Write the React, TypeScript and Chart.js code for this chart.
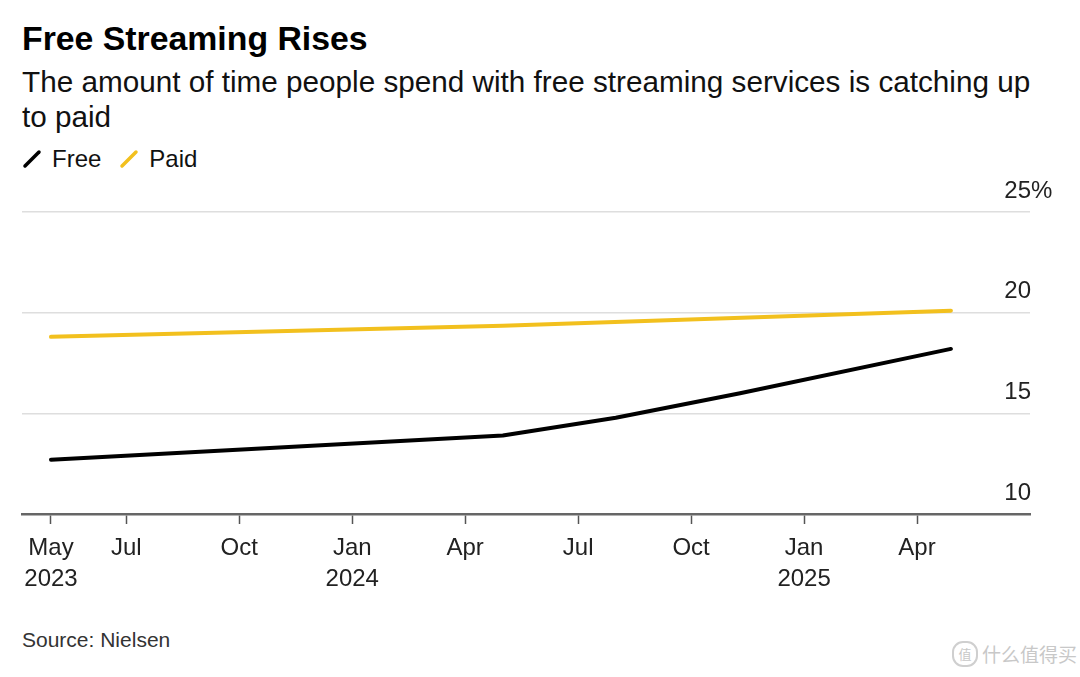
import React, { useEffect, useRef } from "react";
import { Chart, registerables } from "chart.js";

Chart.register(...registerables);

// ---- data ----
// x values are months since May 2023 (0 = May 2023)
const freeMonths = [0, 12, 15, 18.3, 23.9];
const freeValues = [12.7, 13.9, 14.78, 16.0, 18.2];
const paidMonths = [0, 12, 23.9];
const paidValues = [18.8, 19.35, 20.1];

const xTickMonths = [0, 2, 5, 8, 11, 14, 17, 20, 23];
const xTickLabels: string[][] = [
  ["May", "2023"],
  ["Jul"],
  ["Oct"],
  ["Jan", "2024"],
  ["Apr"],
  ["Jul"],
  ["Oct"],
  ["Jan", "2025"],
  ["Apr"],
];
const yTickValues = [10, 15, 20, 25];

const FONT = "'Liberation Sans', Arial, Helvetica, sans-serif";
const FREE_COLOR = "#000000";
const PAID_COLOR = "#f2c01e";

const yLabelPlugin = {
  id: "yLabels",
  afterDraw(chart: any) {
    const { ctx, chartArea, scales } = chart;
    const y = scales.y;
    ctx.save();
    ctx.font = `24px ${FONT}`;
    ctx.fillStyle = "#222";
    ctx.textBaseline = "middle";
    yTickValues.forEach((v) => {
      const py = y.getPixelForValue(v) - 21;
      const label = String(v);
      ctx.textAlign = "right";
      ctx.fillText(label, chartArea.right + 1, py);
      if (v === yTickValues[yTickValues.length - 1]) {
        ctx.textAlign = "left";
        ctx.fillText("%", chartArea.right + 1, py);
      }
    });
    ctx.restore();
  },
};

function LegendSlash({ color }: { color: string }) {
  return (
    <svg width="20" height="20" style={{ display: "block" }}>
      <line x1="3" y1="17" x2="17" y2="3" stroke={color} strokeWidth="3.5" strokeLinecap="round" />
    </svg>
  );
}

export default function App() {
  const canvasRef = useRef<HTMLCanvasElement | null>(null);

  useEffect(() => {
    const canvas = canvasRef.current;
    if (!canvas) return;
    const chart = new Chart(canvas, {
      type: "line",
      data: {
        datasets: [
          {
            label: "Paid",
            data: paidMonths.map((m, i) => ({ x: m, y: paidValues[i] })),
            borderColor: PAID_COLOR,
            borderWidth: 4,
            pointRadius: 0,
            borderCapStyle: "round",
            borderJoinStyle: "round",
            tension: 0,
          },
          {
            label: "Free",
            data: freeMonths.map((m, i) => ({ x: m, y: freeValues[i] })),
            borderColor: FREE_COLOR,
            borderWidth: 4,
            pointRadius: 0,
            borderCapStyle: "round",
            borderJoinStyle: "round",
            tension: 0,
          },
        ],
      },
      options: {
        animation: false,
        responsive: false,
        maintainAspectRatio: false,
        layout: { padding: { left: 22, top: 32, right: 0, bottom: 0 } },
        plugins: { legend: { display: false }, tooltip: { enabled: false } },
        scales: {
          x: {
            type: "linear",
            min: -0.77,
            max: 26.0,
            afterBuildTicks: (scale: any) => {
              scale.ticks = xTickMonths.map((v) => ({ value: v }));
            },
            afterFit: (scale: any) => {
              scale.height = 96;
            },
            ticks: {
              autoSkip: false,
              maxRotation: 0,
              minRotation: 0,
              padding: 9,
              color: "#222",
              font: { family: FONT, size: 24, lineHeight: 1.3 },
              callback: (_v: any, i: number) => xTickLabels[i],
            },
            grid: {
              drawOnChartArea: false,
              drawTicks: true,
              tickLength: 10,
              tickWidth: 1.5,
              tickColor: "#555",
            },
            border: { display: true, color: "#666", width: 2.5 },
          },
          y: {
            type: "linear",
            position: "right",
            min: 10,
            max: 25,
            afterBuildTicks: (scale: any) => {
              scale.ticks = yTickValues.map((v) => ({ value: v }));
            },
            afterFit: (scale: any) => {
              scale.width = 50;
            },
            ticks: { display: false },
            grid: { color: "#dedede", lineWidth: 1.5, drawTicks: false },
            border: { display: false },
          },
        },
      },
      plugins: [yLabelPlugin],
    });
    return () => chart.destroy();
  }, []);

  return (
    <div
      style={{
        position: "fixed",
        left: 0,
        top: 0,
        width: 1080,
        height: 677,
        background: "#fff",
        fontFamily: FONT,
        color: "#111",
        overflow: "hidden",
      }}
    >
      <div
        style={{
          position: "absolute",
          left: 22,
          top: 18,
          fontSize: 33.8,
          fontWeight: 700,
          color: "#000",
          whiteSpace: "nowrap",
          lineHeight: "40px",
        }}
      >
        Free Streaming Rises
      </div>
      <div
        style={{
          position: "absolute",
          left: 22,
          top: 64,
          fontSize: 29.7,
          lineHeight: "35px",
          color: "#111",
          whiteSpace: "nowrap",
        }}
      >
        <div>The amount of time people spend with free streaming services is catching up</div>
        <div>to paid</div>
      </div>
      <div
        style={{
          position: "absolute",
          left: 22,
          top: 145,
          display: "flex",
          alignItems: "center",
          fontSize: 24,
          lineHeight: "28px",
          color: "#111",
          whiteSpace: "nowrap",
        }}
      >
        <LegendSlash color={FREE_COLOR} />
        <span style={{ marginLeft: 10, marginRight: 18 }}>Free</span>
        <LegendSlash color={PAID_COLOR} />
        <span style={{ marginLeft: 10 }}>Paid</span>
      </div>
      <canvas
        ref={canvasRef}
        width={1080}
        height={430}
        style={{ position: "absolute", left: 0, top: 180, width: 1080, height: 430 }}
      />
      <div
        style={{
          position: "absolute",
          left: 22,
          top: 627,
          fontSize: 21,
          lineHeight: "26px",
          color: "#333",
          whiteSpace: "nowrap",
        }}
      >
        Source: Nielsen
      </div>
      <div
        style={{
          position: "absolute",
          left: 952,
          top: 641,
          display: "flex",
          alignItems: "center",
          color: "#c8c8c8",
          fontFamily: "'Noto Sans CJK SC', sans-serif",
          fontSize: 19,
          lineHeight: "24px",
          whiteSpace: "nowrap",
        }}
      >
        <span
          style={{
            display: "inline-block",
            width: 22,
            height: 22,
            borderRadius: 11,
            border: "2px solid #cfcfcf",
            fontSize: 13,
            lineHeight: "22px",
            textAlign: "center",
            marginRight: 4,
          }}
        >
          值
        </span>
        <span>什么值得买</span>
      </div>
    </div>
  );
}
